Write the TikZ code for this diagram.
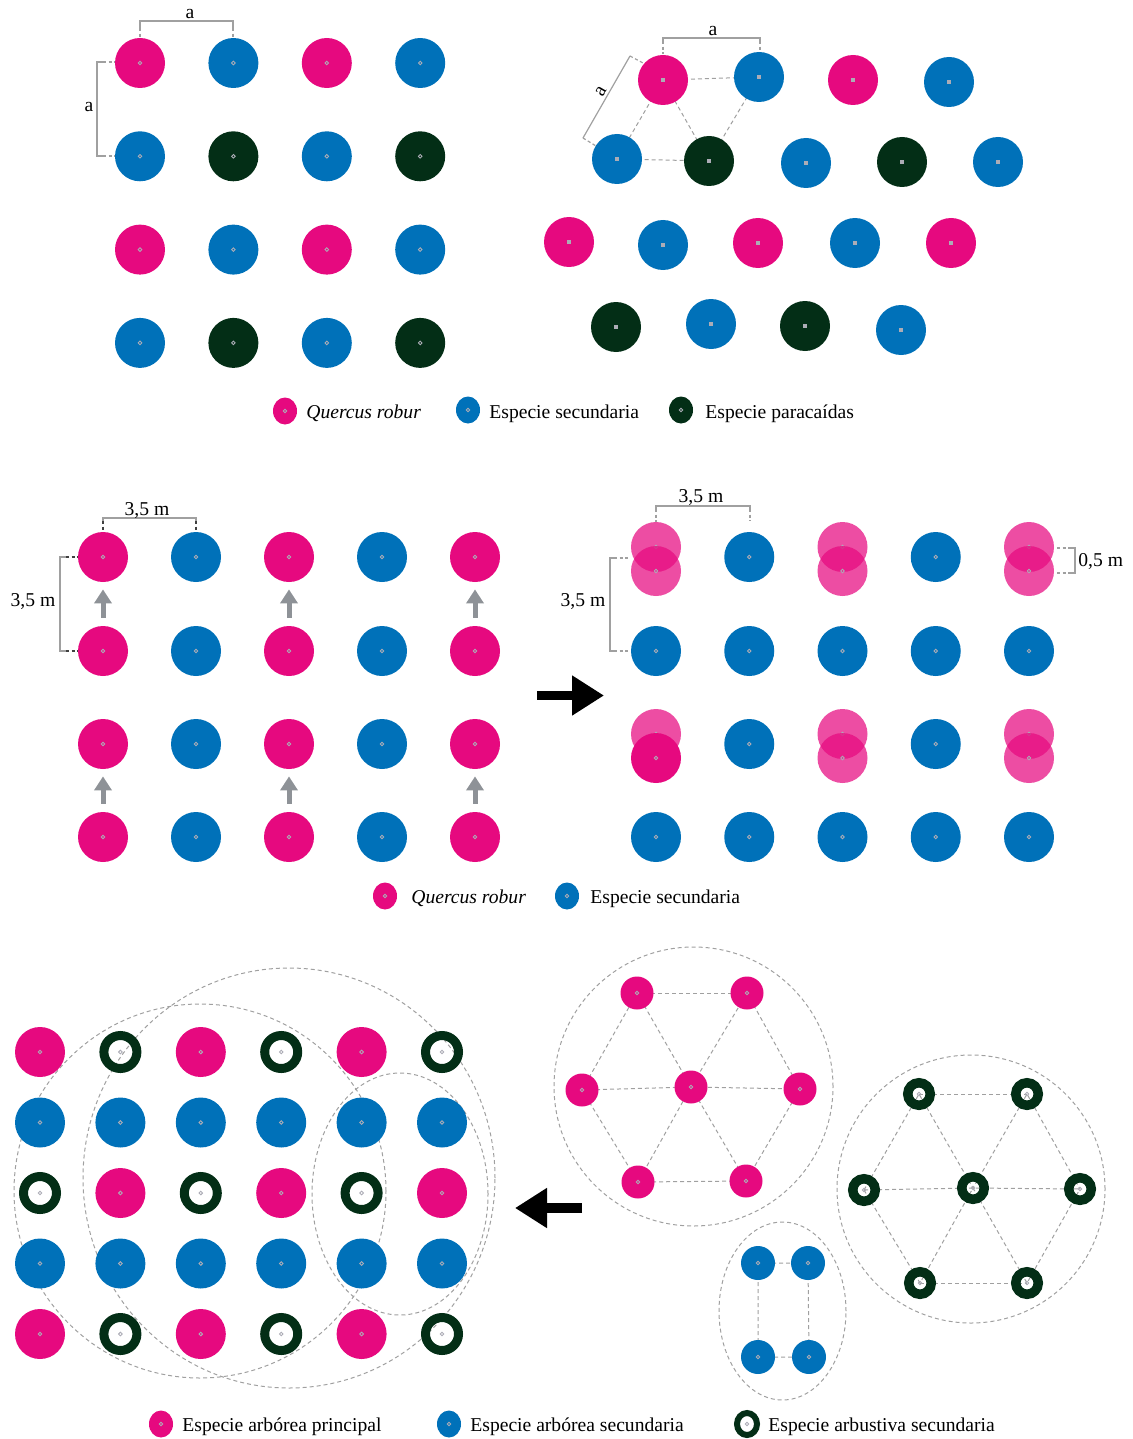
\documentclass[tikz,border=0pt]{standalone}
\usepackage{fontspec}
\setmainfont{Liberation Serif}
\usepackage{xcolor}
\usepackage{tikz}
\usetikzlibrary{arrows.meta, positioning, calc, shapes.geometric, backgrounds}
\definecolor{qrpink}{RGB}{230,9,127}
\definecolor{secblue}{RGB}{0,113,185}
\definecolor{pargreen}{RGB}{3,46,22}
\definecolor{dimgrey}{RGB}{160,160,160}
\definecolor{dotgrey}{RGB}{172,172,182}
\definecolor{pushgrey}{RGB}{142,146,151}
\tikzset{
  ringmark/.style={path picture={\draw[dotgrey, line width=0.45pt] (path picture bounding box.center) circle (0.9pt);}},
  sqmark/.style={path picture={\fill[dotgrey] ($(path picture bounding box.center)+(-1pt,-1pt)$) rectangle ++(2pt,2pt);}},
  tree/.style={circle, inner sep=0pt, minimum size=25pt, ringmark},
  qr/.style={tree, fill=qrpink},
  qrsoft/.style={tree, fill=qrpink, fill opacity=0.72},
  sec/.style={tree, fill=secblue},
  para/.style={tree, fill=pargreen},
  arb/.style={tree, draw=pargreen, line width=4.5pt, minimum size=16.5pt},
  key/.style={ellipse, minimum width=12pt, minimum height=13.5pt},
  keyring/.style={ellipse, minimum width=10pt, minimum height=11pt, line width=3pt},
  keytext/.style={anchor=base west, inner sep=0pt},
  dimline/.style={draw=dimgrey, line width=0.6pt},
  dimdash/.style={dimline, dash pattern=on 1.6pt off 1.2pt},
  dimlabel/.style={anchor=base, inner sep=0pt},
  gapline/.style={draw=dimgrey, line width=0.5pt, dash pattern=on 2pt off 1.5pt},
  grp/.style={draw=dimgrey, line width=0.5pt, dash pattern=on 2pt off 1.5pt, inner sep=0pt},
  pusharrow/.style={draw=pushgrey, line width=2.5pt, -{Triangle[length=7pt, width=8.5pt]}},
  bigarrow/.style={draw=black, line width=4.75pt, -{Triangle[length=16pt, width=19pt]}}
}

\begin{document}
\begin{tikzpicture}[x=0.5pt, y=-0.5pt, font=\fontsize{9.8}{12}\selectfont]
  \useasboundingbox (0,0) rectangle (1132,1439);

  % Square layout
  \foreach \sty [count=\i from 0] in {qr,sec,qr,sec, sec,para,sec,para, qr,sec,qr,sec, sec,para,sec,para}{
    \pgfmathtruncatemacro\cc{mod(\i,4)+1}
    \pgfmathtruncatemacro\rr{div(\i,4)+1}
    \node[\sty] (sq-\rr-\cc) at ({140+93.4*(\cc-1)},{63+93.3*(\rr-1)}) {};
  }
  \draw[dimline] (140,28) -- (140,21) -- (233,21) -- (233,28);
  \draw[dimdash] (140,28) -- (140,38) (233,28) -- (233,38);
  \node[dimlabel] (lbl-sq-a) at (190,19) {a};
  \draw[dimline] (103,62) -- (97,62) -- (97,156) -- (103,156);
  \draw[dimdash] (103,62) -- (115,62) (103,156) -- (115,156);
  \node[dimlabel] (lbl-sq-b) at (89,112) {a};

  % Hexagonal layout
  \foreach \sty/\x/\y/\n in {qr/663/80/1-1, sec/759/77/1-2, qr/853/80/1-3, sec/949/82/1-4,
      sec/617/159/2-1, para/709/161/2-2, sec/806/163/2-3, para/902/162/2-4, sec/998/162/2-5,
      qr/569/242/3-1, sec/663/245/3-2, qr/758/243/3-3, sec/855/243/3-4, qr/951/243/3-5,
      para/616/327/4-1, sec/711/324/4-2, para/805/326/4-3, sec/901/330/4-4}
    \node[\sty, sqmark] (hx-\n) at (\x,\y) {};
  \begin{scope}[on background layer]
    \draw[gapline] (hx-1-1.center) -- (hx-1-2.center) -- (hx-2-2.center) -- (hx-1-1.center)
      -- (hx-2-1.center) -- (hx-2-2.center);
  \end{scope}
  \draw[dimline] (663,41) -- (663,38) -- (760,38) -- (760,41);
  \draw[dimdash] (663,41) -- (663,54) (760,41) -- (760,51);
  \node[dimlabel] (lbl-hx-a) at (713,36) {a};
  \draw[dimline] (630,56) -- (583,138);
  \draw[dimdash] (630,56) -- (643,63) (583,138) -- (596,146);
  \node[rotate=60, inner sep=0pt] (lbl-hx-b) at (601,91) {a};

  % Legend 1
  \node[qr, key] (key1-qr) at (285,411) {};
  \node[keytext] (key1-qrtext) at (306,418) {\textit{Quercus robur}};
  \node[sec, key] (key1-sec) at (468,410) {};
  \node[keytext] (key1-sectext) at (489,418) {Especie secundaria};
  \node[para, key] (key1-para) at (681,410) {};
  \node[keytext] (key1-paratext) at (705,418) {Especie paracaídas};

  % Before thinning
  \foreach \rr/\y in {1/557, 2/651, 3/744, 4/837}
    \foreach \sty [count=\cc] in {qr,sec,qr,sec,qr}
      \node[\sty] (ml-\rr-\cc) at ({103+93*(\cc-1)},\y) {};
  \foreach \cc in {1,3,5}{
    \draw[pusharrow, shorten <=4pt, shorten >=3.5pt] (ml-2-\cc) -- (ml-1-\cc);
    \draw[pusharrow, shorten <=4pt, shorten >=3.5pt] (ml-4-\cc) -- (ml-3-\cc);
  }
  \draw[dimline] (103,521) -- (103,518) -- (196,518) -- (196,521);
  \draw[dimdash, draw=black!75] (103,521) -- (103,532) (196,521) -- (196,532);
  \node[dimlabel] (lbl-ml-a) at (147,515) {3,5 m};
  \draw[dimline] (66,557) -- (60,557) -- (60,651) -- (66,651);
  \draw[dimdash, draw=black!75] (66,557) -- (78,557) (66,651) -- (78,651);
  \node[dimlabel] (lbl-ml-b) at (33,606) {3,5 m};

  \coordinate (arrowR-tail) at (537,695.5);
  \coordinate (arrowR-tip) at (604,695.5);
  \draw[bigarrow] (arrowR-tail) -- (arrowR-tip);

  % After thinning
  \foreach \rr/\y in {2/651, 4/837}
    \foreach \cc in {1,...,5}
      \node[sec] (mr-\rr-\cc) at ({656+93.25*(\cc-1)},\y) {};
  \foreach \rr/\y in {1/557, 3/744}
    \foreach \cc in {2,4}
      \node[sec] (mr-\rr-\cc) at ({656+93.25*(\cc-1)},\y) {};
  \foreach \x/\y/\n/\low in {656/557/1-1/qrsoft, 842.5/557/1-3/qrsoft, 1029/557/1-5/qrsoft,
      656/744/3-1/qr, 842.5/744/3-3/qrsoft, 1029/744/3-5/qrsoft}{
    \node[qrsoft] (mr-\n-up) at (\x,\y-10) {};
    \node[\low] (mr-\n-dn) at (\x,\y+14) {};
  }
  \draw[dimline] (656,509) -- (656,506) -- (750,506) -- (750,509);
  \draw[dimdash] (656,509) -- (656,522) (750,509) -- (750,521);
  \node[dimlabel] (lbl-mr-a) at (701,502) {3,5 m};
  \draw[dimline] (614,558) -- (610,558) -- (610,651) -- (614,651);
  \draw[dimdash] (614,558) -- (630,558) (614,651) -- (630,651);
  \node[dimlabel] (lbl-mr-b) at (583,606) {3,5 m};
  \draw[dimline] (1071,548) -- (1075,548) -- (1075,573) -- (1071,573);
  \draw[dimdash] (1057,548) -- (1071,548) (1057,573) -- (1071,573);
  \node[keytext] (lbl-mr-c) at (1078,566) {0,5 m};

  % Legend 2
  \node[qr, key] (key2-qr) at (385,896) {};
  \node[keytext] (key2-qrtext) at (411,903) {\textit{Quercus robur}};
  \node[sec, key] (key2-sec) at (567,896) {};
  \node[keytext] (key2-sectext) at (590,903) {Especie secundaria};

  % Mixed plantation
  \node[grp, ellipse, minimum width=186pt, minimum height=187pt] (grpL1) at (200,1191) {};
  \node[grp, ellipse, minimum width=206pt, minimum height=210pt] (grpL2) at (289,1178) {};
  \node[grp, ellipse, minimum width=88pt, minimum height=121pt] (grpL3) at (400,1194) {};
  \foreach \sty [count=\i from 0] in {qr,arb,qr,arb,qr,arb, sec,sec,sec,sec,sec,sec,
      arb,qr,arb,qr,arb,qr, sec,sec,sec,sec,sec,sec, qr,arb,qr,arb,qr,arb}{
    \pgfmathtruncatemacro\cc{mod(\i,6)+1}
    \pgfmathtruncatemacro\rr{div(\i,6)+1}
    \node[\sty] (bl-\rr-\cc) at ({40+80.4*(\cc-1)},{1052+70.5*(\rr-1)}) {};
  }

  \coordinate (arrowL-tail) at (582,1208);
  \coordinate (arrowL-tip) at (515,1208);
  \draw[bigarrow] (arrowL-tail) -- (arrowL-tip);

  % Main species group
  \node[grp, circle, minimum size=139.5pt] (grpP) at (693.5,1086.5) {};
  \foreach \x/\y/\n in {637/993/tl, 747/993/tr, 582/1090/l, 691/1087/c, 800/1089/r, 638/1182/bl, 746/1181/br}
    \node[qr, minimum size=16.5pt] (hp-\n) at (\x,\y) {};
  % Shrub group
  \node[grp, circle, minimum size=134pt] (grpG) at (971,1189) {};
  \foreach \x/\y/\n in {919/1094/tl, 1027/1094/tr, 864/1190/l, 973/1188/c, 1080/1189/r, 920/1283/bl, 1027/1283/br}
    \node[arb, minimum size=11.25pt, line width=4.75pt] (hg-\n) at (\x,\y) {};
  % Secondary tree group
  \node[grp, ellipse, minimum width=63.5pt, minimum height=89pt] (grpS) at (782.5,1311) {};
  \foreach \x/\y/\n in {758/1263/tl, 808/1263/tr, 758/1357/bl, 809/1357/br}
    \node[sec, minimum size=17pt] (bs-\n) at (\x,\y) {};

  \begin{scope}[on background layer]
    \foreach \g in {hp,hg}{
      \draw[gapline] (\g-tl.center) -- (\g-tr.center);
      \draw[gapline] (\g-l.center) -- (\g-c.center) -- (\g-r.center);
      \draw[gapline] (\g-bl.center) -- (\g-br.center);
      \draw[gapline] (\g-l.center) -- (\g-tl.center) -- (\g-c.center) -- (\g-tr.center) -- (\g-r.center);
      \draw[gapline] (\g-l.center) -- (\g-bl.center) -- (\g-c.center) -- (\g-br.center) -- (\g-r.center);
    }
    \draw[gapline] (bs-tl.center) -- (bs-tr.center) -- (bs-br.center) -- (bs-bl.center) -- cycle;
  \end{scope}

  % Legend 3
  \node[qr, key] (key3-qr) at (161,1424) {};
  \node[keytext] (key3-qrtext) at (182,1431) {Especie arbórea principal};
  \node[sec, key] (key3-sec) at (449,1424) {};
  \node[keytext] (key3-sectext) at (470,1431) {Especie arbórea secundaria};
  \node[arb, keyring] (key3-arb) at (747,1424) {};
  \node[keytext] (key3-arbtext) at (768,1431) {Especie arbustiva secundaria};
\end{tikzpicture}
\end{document}
